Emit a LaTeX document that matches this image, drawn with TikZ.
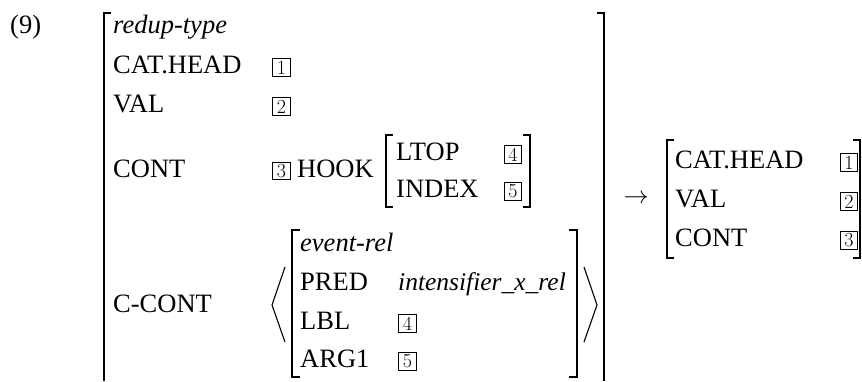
\documentclass[tikz,border=0pt]{standalone}
\usepackage{fontspec}
\setmainfont{Liberation Serif}
\newfontfamily\lmr{Latin Modern Roman}
\begin{document}
\begin{tikzpicture}[x=1pt,y=-1pt,
  lbl/.style={anchor=base west, inner sep=0pt, font=\fontsize{26.5}{30}\selectfont},
  typ/.style={lbl, font=\fontsize{26.5}{30}\selectfont\itshape},
  tag/.style={draw, line width=1pt, inner sep=0pt, minimum width=17.5pt, minimum height=17.5pt, font=\lmr\fontsize{20}{20}\selectfont},
  bigbr/.style={line width=1.6pt},
  smbr/.style={line width=1.3pt},
  ang/.style={line width=1.1pt}]
\useasboundingbox (0,0) rectangle (862,381);
% example number
\node[lbl] (num) at (10,33) {(9)};
% big AVM
\draw[bigbr] (111,13) -- (104,13) -- (104,381);
\draw[bigbr] (597,13) -- (604,13) -- (604,381);
\node[typ] (rt) at (113,33) {redup-type};
\node[lbl] (cat) at (113,73) {CAT.HEAD};
\node[tag] (t1) at (281.5,67.5) {1};
\node[lbl] (val) at (113,112) {VAL};
\node[tag] (t2) at (281.5,106.5) {2};
\node[lbl] (cont) at (113,177) {CONT};
\node[tag] (t3) at (281.5,171) {3};
\node[lbl] (hook) at (297,177) {HOOK};
% HOOK AVM
\draw[smbr] (393,135) -- (386,135) -- (386,207) -- (393,207);
\draw[smbr] (523,135) -- (530,135) -- (530,207) -- (523,207);
\node[lbl] (ltop) at (396,160) {LTOP};
\node[tag] (t4) at (513,154.5) {4};
\node[lbl] (index) at (396,197) {INDEX};
\node[tag] (t5) at (513,191.5) {5};
% C-CONT
\node[lbl] (ccont) at (113,312) {C-CONT};
\draw[ang] (285,267) -- (272,305) -- (285,342);
\draw[smbr] (300,230) -- (292,230) -- (292,377) -- (300,377);
\draw[smbr] (569,230) -- (577,230) -- (577,377) -- (569,377);
\draw[ang] (584,267) -- (597,305) -- (584,342);
\node[typ] (ev) at (300,251) {event-rel};
\node[lbl] (pred) at (300,290) {PRED};
\node[typ, font=\fontsize{25.5}{30}\selectfont\itshape] (intens) at (398,290) {intensifier\_x\_rel};
\node[lbl] (lbl) at (300,329) {LBL};
\node[tag] (t4b) at (407.5,323.5) {4};
\node[lbl] (arg) at (300,367) {ARG1};
\node[tag] (t5b) at (407.5,361.5) {5};
% arrow
\node[inner sep=0pt, font=\fontsize{25.5}{30}\selectfont] (arr) at (636,199) {$\rightarrow$};
% right AVM
\draw[smbr] (674,140) -- (667,140) -- (667,258) -- (674,258);
\draw[smbr] (853,140) -- (860,140) -- (860,258) -- (853,258);
\node[lbl] (rcat) at (675,168) {CAT.HEAD};
\node[tag] (r1) at (849,162.5) {1};
\node[lbl] (rval) at (675,207) {VAL};
\node[tag] (r2) at (849,201.5) {2};
\node[lbl] (rcont) at (675,246) {CONT};
\node[tag] (r3) at (849,240.5) {3};
\end{tikzpicture}
\end{document}
